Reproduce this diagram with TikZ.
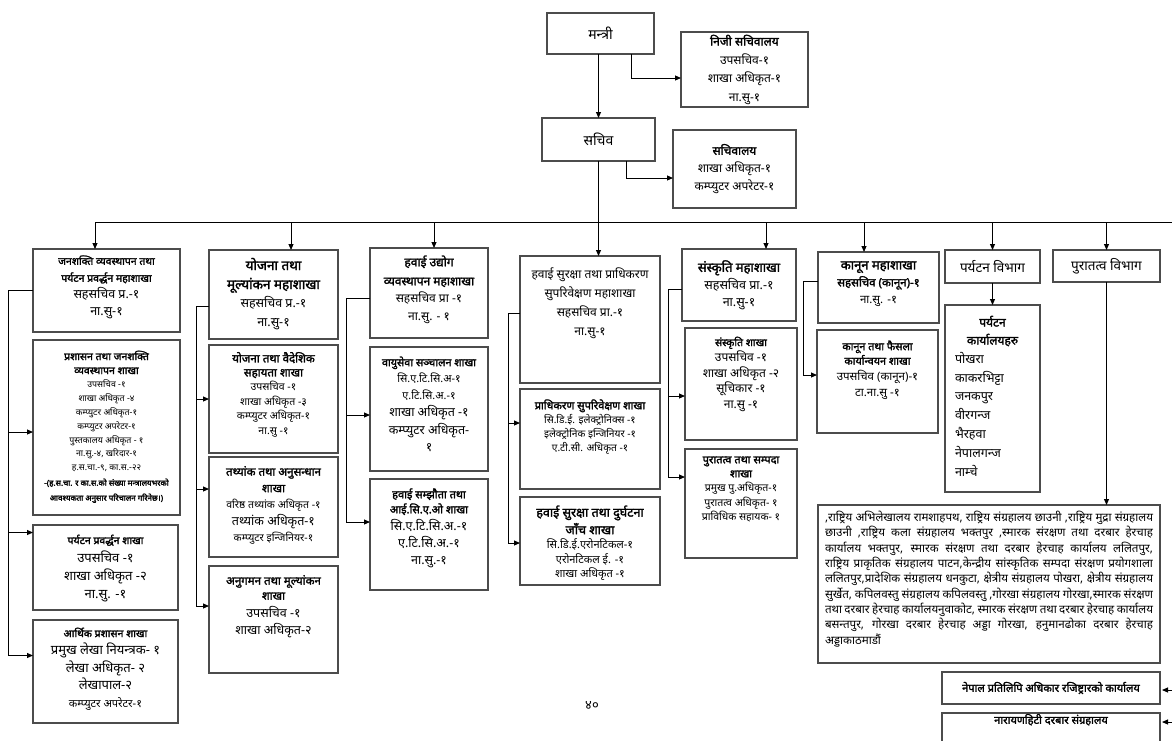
\documentclass[tikz,border=0pt]{standalone}
\usepackage{fontspec}
\newfontfamily\dev[Script=Devanagari, AutoFakeBold=2]{Noto Sans}
\usetikzlibrary{arrows.meta}
\newcommand{\fsz}[2]{\fontsize{#1}{#2}\selectfont}
\newcommand{\orgbox}[8]{%
  \pgfmathsetlengthmacro{\obW}{(#4)-(#2)}%
  \pgfmathsetlengthmacro{\obH}{(#5)-(#3)}%
  \pgfmathsetmacro{\obX}{((#2)+(#4))/2}%
  \pgfmathsetmacro{\obY}{((#3)+(#5))/2}%
  \node[obox] (#1) at (\obX,\obY) {\parbox[c][\obH][#6]{\obW}{\centering\vspace*{#7}#8\par}};%
}
\tikzset{
  obox/.style={draw=black!70, line width=1.2pt, inner sep=0pt, outer sep=0pt, font=\dev, text=black},
  line/.style={draw=black, line width=1pt},
  conn/.style={line, -{Triangle[length=6pt,width=5pt]}},
}
\begin{document}
\begin{tikzpicture}[x=1pt,y=-1pt]
\path[fill=white, use as bounding box] (0,0) rectangle (1172,740);

% ---------- top ----------
\orgbox{mantri}{547}{13}{654}{54}{c}{0pt}{\fsz{14}{16}मन्त्री}
\orgbox{niji}{681}{32}{808}{107}{c}{0pt}{\fsz{12}{18.5}\textbf{निजी सचिवालय}\\उपसचिव-१\\शाखा अधिकृत-१\\ना.सु-१}
\orgbox{sachiv}{542}{118}{655}{161}{c}{0pt}{\fsz{14}{16}सचिव}
\orgbox{sachivalaya}{673}{130}{796}{208}{c}{0pt}{\fsz{12}{18}\textbf{सचिवालय}\\शाखा अधिकृत-१\\कम्प्युटर अपरेटर-१}

% ---------- column 1 ----------
\orgbox{c1h}{33}{249}{180}{332}{t}{6.4pt}{{\bfseries\fsz{10.5}{17}जनशक्ति व्यवस्थापन तथा\\ पर्यटन प्रवर्द्धन महाशाखा\par}{\fsz{12.5}{17}सहसचिव प्र.-१\\ ना.सु-१\par}}
\orgbox{c1s1}{33}{340}{180}{515}{t}{10.7pt}{{\bfseries\fsz{10.5}{14}प्रशासन तथा जनशक्ति\\ व्यवस्थापन शाखा\par}{\fsz{8.8}{13.8}उपसचिव -१\\ शाखा अधिकृत -४\\ कम्प्युटर अधिकृत-१\\ कम्प्युटर अपरेटर-१\\ पुस्तकालय अधिकृत - १\\ ना.सु.-४, खरिदार-१\\ ह.स.चा.-९, का.स.-२२\par}{\bfseries\fsz{8}{15}-(ह.स.चा. र का.स.को संख्या मन्त्रालयभरको\\ आवश्यकता अनुसार परिचालन गरिनेछ।)\par}}
\orgbox{c1s2}{33}{525}{178}{610}{t}{9.7pt}{{\bfseries\fsz{10.5}{18}पर्यटन प्रवर्द्धन शाखा\par}{\fsz{13}{18}उपसचिव -१\\ शाखा अधिकृत -२\\ ना.सु. -१\par}}
\orgbox{c1s3}{33}{620}{178}{723}{t}{7.7pt}{{\bfseries\fsz{10.5}{18}आर्थिक प्रशासन शाखा\par}{\fsz{13}{17.5}प्रमुख लेखा नियन्त्रक- १\\ लेखा अधिकृत- २\\ लेखापाल-२\par}{\fsz{11}{18}कम्प्युटर अपरेटर-१\par}}

% ---------- column 2 ----------
\orgbox{c2h}{209}{250}{338}{339}{t}{7.9pt}{{\bfseries\fsz{13.5}{19}योजना तथा\\ मूल्यांकन महाशाखा\par}{\fsz{12.5}{18.5}सहसचिव प्र.-१\\ ना.सु-१\par}}
\orgbox{c2s1}{209}{345}{338}{453}{t}{7.1pt}{{\bfseries\fsz{11.5}{14}योजना तथा वैदेशिक\\ सहायता शाखा\par}{\fsz{10.5}{14.5}उपसचिव -१\\ शाखा अधिकृत -३\\ कम्प्युटर अधिकृत-१\\ ना.सु -१\par}}
\orgbox{c2s2}{209}{457}{338}{557}{t}{9.1pt}{{\bfseries\fsz{11.5}{16.5}तथ्यांक तथा अनुसन्धान\\ शाखा\par}{\fsz{10.5}{16.5}वरिष्ठ तथ्यांक अधिकृत -१\par}{\fsz{12.5}{16.5}तथ्यांक अधिकृत-१\par}{\fsz{10.5}{16.5}कम्प्युटर इन्जिनियर-१\par}}
\orgbox{c2s3}{209}{566}{338}{673}{t}{9.1pt}{{\bfseries\fsz{11.5}{15}अनुगमन तथा मूल्यांकन\\ शाखा\par}{\fsz{12.5}{17.5}उपसचिव -१\\ शाखा अधिकृत-२\par}}

% ---------- column 3 ----------
\orgbox{c3h}{370}{248}{488}{338}{t}{7.5pt}{{\bfseries\fsz{12}{19}हवाई उद्योग\\ व्यवस्थापन महाशाखा\par}{\fsz{12}{17.5}सहसचिव प्रा -१\\ ना.सु. - १\par}}
\orgbox{c3s1}{370}{347}{488}{471}{t}{9.5pt}{{\bfseries\fsz{10.8}{17}वायुसेवा सञ्चालन शाखा\par}{\fsz{10.8}{16.5}सि.ए.टि.सि.अ-१\\ ए.टि.सि.अ.-१\par}{\fsz{12.5}{17.5}शाखा अधिकृत -१\\ कम्प्युटर अधिकृत-\\ १\par}}
\orgbox{c3s2}{370}{479}{488}{590}{t}{9.4pt}{{\bfseries\fsz{11}{15}हवाई सम्झौता तथा\\ आई.सि.ए.ओ शाखा\par}{\fsz{12.5}{17}सि.ए.टि.सि.अ.-१\\ ए.टि.सि.अ.-१\\ ना.सु.-१\par}}

% ---------- column 4 ----------
\orgbox{c4h}{520}{256}{660}{383}{t}{11.8pt}{{\fsz{12}{19}हवाई सुरक्षा तथा प्राधिकरण\\ सुपरिवेक्षण महाशाखा\\ सहसचिव प्रा.-१\\ ना.सु-१\par}}
\orgbox{c4s1}{520}{389}{660}{489}{t}{10.4pt}{{\bfseries\fsz{11}{19}प्राधिकरण सुपरिवेक्षण शाखा\par}{\fsz{10.2}{14}सि.डि.ई. इलेक्ट्रोनिक्स -१\\ इलेक्ट्रोनिक इन्जिनियर -१\\ ए.टी.सी. अधिकृत -१\par}}
\orgbox{c4s2}{520}{497}{660}{585}{t}{8.5pt}{{\bfseries\fsz{12.5}{17.5}हवाई सुरक्षा तथा दुर्घटना\\ जाँच शाखा\par}{\fsz{11}{14.5}सि.डि.ई.एरोनटिकल-१\\ एरोनटिकल ई. -१\\ शाखा अधिकृत -१\par}}

% ---------- column 5 ----------
\orgbox{c5h}{682}{249}{796}{321}{t}{11.2pt}{{\bfseries\fsz{13}{18}संस्कृति महाशाखा\par}{\fsz{12.5}{17.5}सहसचिव प्रा.-१\\ ना.सु-१\par}}
\orgbox{c5s1}{685}{328}{797}{440}{t}{8.7pt}{{\bfseries\fsz{10.5}{16}संस्कृति शाखा\par}{\fsz{12}{15.5}उपसचिव -१\\ शाखा अधिकृत -२\\ सूचिकार -१\\ ना.सु -१\par}}
\orgbox{c5s2}{685}{449}{797}{558}{t}{7.4pt}{{\bfseries\fsz{11}{14}पुरातत्व तथा सम्पदा\\ शाखा\par}{\fsz{10.5}{14.5}प्रमुख पु.अधिकृत-१\\ पुरातत्व अधिकृत- १\\ प्राविधिक सहायक- १\par}}

% ---------- column 6 ----------
\orgbox{c6h}{818}{252}{939}{323}{t}{9.2pt}{{\bfseries\fsz{13}{18}कानून महाशाखा\par}{\bfseries\fsz{11.5}{17}सहसचिव (कानून)-१\par}{\fsz{11.5}{17}ना.सु. -१\par}}
\orgbox{c6s}{817}{330}{938}{433}{t}{10.5pt}{{\bfseries\fsz{10.8}{14.5}कानून तथा फैसला\\ कार्यान्वयन शाखा\par}{\fsz{11.5}{16}उपसचिव (कानून)-१\\ टा.ना.सु -१\par}}

% ---------- column 7 ----------
\orgbox{c7d}{945}{250}{1040}{283}{c}{0pt}{\fsz{13.5}{15}पर्यटन विभाग}
\orgbox{c7o}{945}{305}{1040}{492}{t}{10.8pt}{{\bfseries\fsz{12}{18}पर्यटन\\ कार्यालयहरु\par}{\raggedright\leftskip=10pt\fsz{12.5}{18.8}पोखरा\\ काकरभिट्टा\\ जनकपुर\\ वीरगन्ज\\ भैरहवा\\ नेपालगन्ज\\ नाम्चे\par}}

% ---------- column 8 ----------
\orgbox{c8d}{1053}{250}{1160}{282}{c}{0pt}{\fsz{13.5}{15}पुरातत्व विभाग}
\orgbox{puratatva}{818}{505}{1160}{663}{t}{6.2pt}{{\leftskip=7pt\rightskip=7pt\parfillskip=0pt plus 1fil\emergencystretch=20pt\fsz{11.6}{15.3},राष्ट्रिय अभिलेखालय रामशाहपथ, राष्ट्रिय संग्रहालय छाउनी ,राष्ट्रिय मुद्रा संग्रहालय छाउनी ,राष्ट्रिय कला संग्रहालय भक्तपुर ,स्मारक संरक्षण तथा दरबार हेरचाह कार्यालय भक्तपुर, स्मारक संरक्षण तथा दरबार हेरचाह कार्यालय ललितपुर, राष्ट्रिय प्राकृतिक संग्रहालय पाटन,केन्द्रीय सांस्कृतिक सम्पदा संरक्षण प्रयोगशाला ललितपुर,प्रादेशिक संग्रहालय धनकुटा, क्षेत्रीय संग्रहालय पोखरा, क्षेत्रीय संग्रहालय सुर्खेत, कपिलवस्तु संग्रहालय कपिलवस्तु ,गोरखा संग्रहालय गोरखा,स्मारक संरक्षण तथा दरबार हेरचाह कार्यालयनुवाकोट, स्मारक संरक्षण तथा दरबार हेरचाह कार्यालय बसन्तपुर, गोरखा दरबार हेरचाह अड्डा गोरखा, हनुमानढोका दरबार हेरचाह अड्डाकाठमाडौं\par}}

% ---------- bottom right ----------
\orgbox{b1}{942}{672}{1160}{704}{c}{0pt}{\bfseries\fsz{11}{13}नेपाल प्रतिलिपि अधिकार रजिष्ट्रारको कार्यालय}
\orgbox{b2}{942}{713}{1160}{752}{t}{1pt}{\bfseries\fsz{11}{13}नारायणहिटी दरबार संग्रहालय}

\node[font=\dev\fsz{13}{15}] (pg) at (592,705) {४०};

% ---------- connectors: top ----------
\draw[conn] (mantri.south -| sachiv.north) -- (sachiv.north);
\coordinate (mo) at ([xshift=30.5pt]mantri.south);
\coordinate (ni) at ([yshift=-8.5pt]niji.west);
\draw[conn] (mo) |- (ni);
\coordinate (so) at ([xshift=27.5pt]sachiv.south);
\coordinate (si) at ([yshift=-9pt]sachivalaya.west);
\draw[conn] (so) |- (si);

% ---------- main bar ----------
\coordinate (barL) at (95,222);
\coordinate (barR) at (1172,222);
\draw[line] (barL) -- (barR);
\draw[conn] (sachiv.south) -- (sachiv.south |- c4h.north);
\coordinate (j1) at (95,222);
\coordinate (j2) at (291,222);
\coordinate (j3) at (434,222);
\coordinate (j5) at (766,222);
\coordinate (j6) at (864,222);
\draw[conn] (j1) -- (j1 |- c1h.north);
\draw[conn] (j2) -- (j2 |- c2h.north);
\draw[conn] (j3) -- (j3 |- c3h.north);
\draw[conn] (j5) -- (j5 |- c5h.north);
\draw[conn] (j6) -- (j6 |- c6h.north);
\draw[conn] (c7d.north |- barL) -- (c7d.north);
\draw[conn] (c8d.north |- barL) -- (c8d.north);

% ---------- column 1 connectors ----------
\coordinate (c1L) at (8,0);
\coordinate (c1a) at ([yshift=-4.5pt]c1s1.west);
\coordinate (c1b) at ([yshift=35pt]c1s2.west);
\coordinate (c1c) at ([yshift=16pt]c1s3.west);
\draw[line] (c1h.west) -- (c1h.west -| c1L) -- (c1c -| c1L);
\draw[conn] (c1a -| c1L) -- (c1a);
\draw[conn] (c1b -| c1L) -- (c1b);
\draw[conn] (c1c -| c1L) -- (c1c);

% ---------- column 2 connectors ----------
\coordinate (c2L) at (196,0);
\coordinate (c2o) at ([yshift=-11.5pt]c2h.west);
\coordinate (c2a) at (c2s1.west);
\coordinate (c2b) at ([yshift=18pt]c2s2.west);
\coordinate (c2c) at ([yshift=13.5pt]c2s3.west);
\draw[line] (c2o) -- (c2o -| c2L) -- (c2c -| c2L);
\draw[conn] (c2a -| c2L) -- (c2a);
\draw[conn] (c2b -| c2L) -- (c2b);
\draw[conn] (c2c -| c2L) -- (c2c);

% ---------- column 3 connectors ----------
\coordinate (c3L) at (346,0);
\coordinate (c3o) at ([yshift=-5pt]c3h.west);
\coordinate (c3a) at ([yshift=-6pt]c3s1.west);
\coordinate (c3b) at ([yshift=12.5pt]c3s2.west);
\draw[line] (c3o) -- (c3o -| c3L) -- (c3b -| c3L);
\draw[conn] (c3a -| c3L) -- (c3a);
\draw[conn] (c3b -| c3L) -- (c3b);

% ---------- column 4 connectors ----------
\coordinate (c4L) at (508,0);
\coordinate (c4o) at ([yshift=6.5pt]c4h.west);
\coordinate (c4a) at ([yshift=16pt]c4s1.west);
\coordinate (c4b) at ([yshift=-2pt]c4s2.west);
\draw[line] (c4o) -- (c4o -| c4L) -- (c4b -| c4L);
\draw[conn] (c4a -| c4L) -- (c4a);
\draw[conn] (c4b -| c4L) -- (c4b);

% ---------- column 5 connectors ----------
\coordinate (c5L) at (668,0);
\coordinate (c5o) at ([yshift=-4pt]c5h.west);
\coordinate (c5a) at ([yshift=-12pt]c5s1.west);
\coordinate (c5b) at ([yshift=26.5pt]c5s2.west);
\draw[line] (c5o) -- (c5o -| c5L) -- (c5b -| c5L);
\draw[conn] (c5a -| c5L) -- (c5a);
\draw[conn] (c5b -| c5L) -- (c5b);

% ---------- column 6 connectors ----------
\coordinate (c6L) at (803,0);
\coordinate (c6o) at ([yshift=6.5pt]c6h.west);
\coordinate (c6a) at ([yshift=6.5pt]c6s.west);
\draw[line] (c6o) -- (c6o -| c6L) -- (c6a -| c6L);
\draw[conn] (c6a -| c6L) -- (c6a);

% ---------- departments ----------
\draw[conn] (c7d.south) -- (c7o.north);
\draw[conn] (c8d.south) -- (c8d.south |- puratatva.north);

% ---------- bottom right arrows ----------
\coordinate (r1) at (1172,690);
\coordinate (r2) at (1172,722);
\draw[conn, shorten >=2pt] (r1) -- (r1 -| b1.east);
\draw[conn, shorten >=2pt] (r2) -- (r2 -| b2.east);
\end{tikzpicture}
\end{document}
